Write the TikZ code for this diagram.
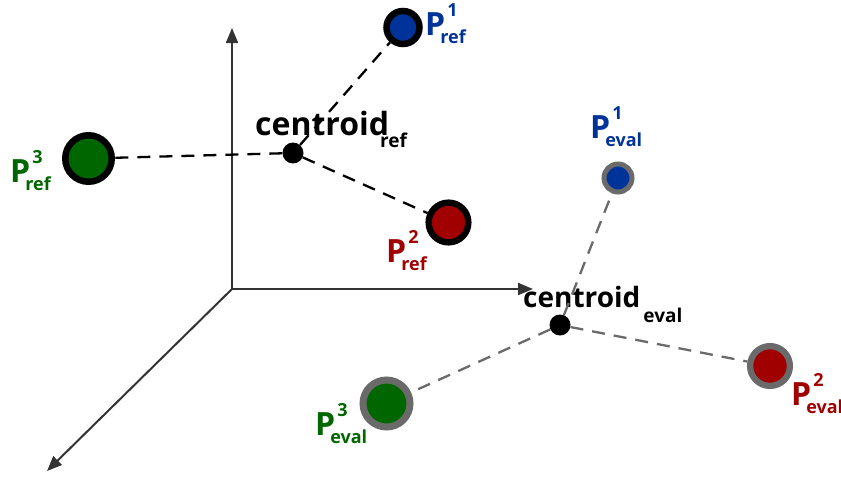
\documentclass[tikz,border=0pt]{standalone}
\usepackage{fontspec}
\setmainfont{Open Sans}[BoldFont={Open Sans Bold}]
\usetikzlibrary{arrows.meta}
\definecolor{pblue}{HTML}{003399}
\definecolor{pgreen}{HTML}{006600}
\definecolor{pred}{HTML}{A00000}
\definecolor{ringgray}{HTML}{6A6A6A}
\definecolor{axisgray}{HTML}{333333}
\newcommand{\bigF}{\fontsize{32}{32}\selectfont}
\newcommand{\smallF}{\fontsize{18}{18}\selectfont}
\newcommand{\plab}[2]{\bfseries\bigF P\makebox[0pt][l]{\hspace{2pt}\raisebox{19pt}{\smallF #1}}\hspace{-5pt}\raisebox{-8pt}{\smallF #2}}
\begin{document}
\begin{tikzpicture}[x=1pt,y=-1pt,
  axis/.style={draw=axisgray,line width=2pt,-{Triangle[length=15pt,width=12pt]}},
  refpt/.style={circle,draw=black,inner sep=0pt},
  evalpt/.style={circle,draw=ringgray,inner sep=0pt},
  cdot/.style={circle,fill=black,inner sep=0pt,minimum size=21pt},
  reflink/.style={draw=black,line width=2.3pt,dash pattern=on 13pt off 9pt},
  evallink/.style={draw=ringgray,line width=2.3pt,dash pattern=on 13pt off 9pt},
  lab/.style={inner sep=0pt,anchor=base west}]
\useasboundingbox (0,0) rectangle (841,479);
% axes
\coordinate (o) at (232,289);
\coordinate (ax) at (533,289);
\coordinate (ay) at (232,28);
\coordinate (az) at (47,471);
\draw[axis] (o) -- (ax);
\draw[axis] (o) -- (ay);
\draw[axis] (o) -- (az);
% reference points
\node[refpt,fill=pblue,line width=6.5pt,minimum size=33pt] (r1) at (403,27.5) {};
\node[refpt,fill=pgreen,line width=6.5pt,minimum size=46.5pt] (r3) at (88.5,158.5) {};
\node[refpt,fill=pred,line width=6.3pt,minimum size=39.8pt] (r2) at (448.5,222.5) {};
\node[cdot] (cr) at (293,153) {};
% evaluation points
\node[evalpt,fill=pblue,line width=5pt,minimum size=28pt] (e1) at (618,178) {};
\node[evalpt,fill=pgreen,line width=7pt,minimum size=47pt] (e3) at (386.5,403.5) {};
\node[evalpt,fill=pred,line width=6.3pt,minimum size=39.8pt] (e2) at (770,366) {};
\node[cdot] (ce) at (560,325) {};
% labels
\node[lab,text=pblue] (lr1) at (425,35) {\plab{1}{ref}};
\node[lab,text=pgreen] (lr3) at (10,182) {\plab{3}{ref}};
\node[lab,text=pred] (lr2) at (386,262) {\plab{2}{ref}};
\node[lab,text=pblue] (le1) at (590,138) {\plab{1}{eval}};
\node[lab,text=pgreen] (le3) at (315,435) {\plab{3}{eval}};
\node[lab,text=pred] (le2) at (791,405) {\plab{2}{eval}};
\node[lab] (lcr) at (255,135) {\bfseries\fontsize{32}{32}\selectfont centroid\hspace{-9pt}\raisebox{-12pt}{\fontsize{19}{19}\selectfont ref}};
\node[lab] (lce) at (523,307) {\bfseries\fontsize{28}{28}\selectfont centroid\hspace{3pt}\raisebox{-15pt}{\fontsize{19}{19}\selectfont eval}};
% links
\draw[reflink] (cr) -- (r1);
\draw[reflink] (cr) -- (r2);
\draw[reflink] (cr) -- (r3);
\draw[evallink] (ce) -- (e1);
\draw[evallink] (ce) -- (e2);
\draw[evallink] (ce) -- (e3);
\end{tikzpicture}
\end{document}
